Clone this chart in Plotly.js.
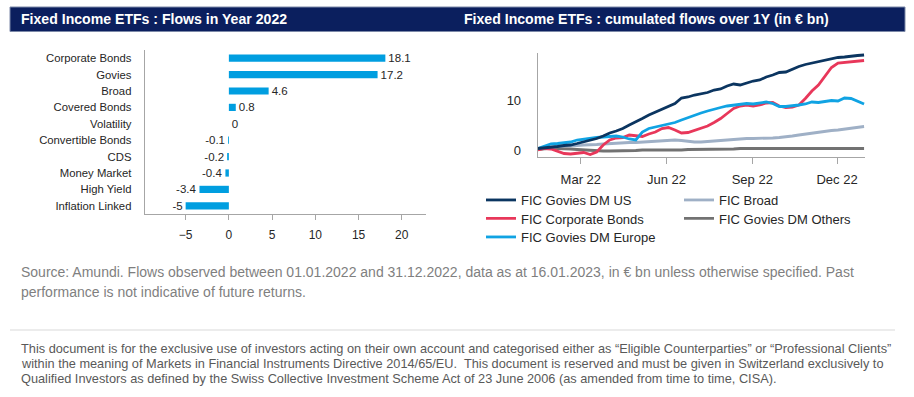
<!DOCTYPE html>
<html>
<head>
<meta charset="utf-8">
<script src="https://cdn.plot.ly/plotly-3.0.1.min.js"></script>
<style>
html,body{margin:0;padding:0;background:#fff;}
#chart{width:914px;height:397px;}
</style>
</head>
<body>
<div id="chart"></div>
<script>
// ---------- Data ----------
const barCategories = ['Corporate Bonds','Govies','Broad','Covered Bonds','Volatility','Convertible Bonds','CDS','Money Market','High Yield','Inflation Linked'];
const barValues = [18.1, 17.2, 4.6, 0.8, 0, -0.1, -0.2, -0.4, -3.4, -5];

const dates = ['2022-01-14','2022-01-21','2022-01-28','2022-02-04','2022-02-11','2022-02-18','2022-02-25','2022-03-04','2022-03-11','2022-03-18','2022-03-25','2022-04-01','2022-04-08','2022-04-15','2022-04-22','2022-04-29','2022-05-06','2022-05-13','2022-05-20','2022-05-27','2022-06-03','2022-06-10','2022-06-17','2022-06-24','2022-07-01','2022-07-08','2022-07-15','2022-07-22','2022-07-29','2022-08-05','2022-08-12','2022-08-19','2022-08-26','2022-09-02','2022-09-09','2022-09-16','2022-09-23','2022-09-30','2022-10-07','2022-10-14','2022-10-21','2022-10-28','2022-11-04','2022-11-11','2022-11-18','2022-11-25','2022-12-02','2022-12-09','2022-12-16','2022-12-23','2022-12-30'];
const goviesUS = [0.3,0.4,0.5,0.7,0.9,1.0,1.3,1.6,1.9,2.3,2.8,3.4,3.8,4.3,5.0,5.6,6.3,7.0,7.6,8.2,8.8,9.3,10.4,10.6,11.0,11.3,11.5,12.0,12.2,12.8,13.2,13.0,13.4,13.8,14.0,14.6,15.0,15.5,15.6,16.2,16.7,17.1,17.4,17.7,18.0,18.3,18.5,18.6,18.8,18.9,19.0];
const corporate = [0.0,0.3,0.2,-0.3,-0.7,-0.8,-0.6,-0.5,-0.9,-0.4,1.0,2.0,2.4,2.5,3.0,2.9,2.7,3.2,3.6,4.3,4.5,4.0,3.4,3.5,3.9,4.3,4.8,5.5,6.3,7.3,8.3,8.8,9.0,8.8,9.0,9.4,9.5,8.8,8.5,8.6,9.0,10.3,11.8,13.0,14.8,16.5,17.4,17.5,17.6,17.8,17.9];
const goviesEurope = [0.3,0.8,1.2,1.3,1.5,1.6,2.0,2.2,2.4,2.5,2.6,2.7,2.8,2.6,2.2,2.0,3.6,4.3,4.6,4.8,5.1,5.5,6.0,6.5,7.0,7.4,7.8,8.2,8.5,8.8,9.0,9.2,9.3,9.2,9.4,9.6,9.3,8.7,8.7,8.8,9.0,9.2,9.6,9.5,9.7,9.9,9.8,10.4,10.3,9.8,9.2];
const broad = [0.2,0.4,0.6,0.7,0.8,0.8,0.9,1.0,1.0,1.1,1.2,1.3,1.3,1.4,1.5,1.5,1.6,1.7,1.8,1.9,2.0,2.0,1.9,1.7,1.6,1.6,1.7,1.8,2.0,2.1,2.2,2.2,2.3,2.3,2.3,2.4,2.4,2.5,2.6,2.8,3.0,3.2,3.4,3.5,3.7,3.9,4.0,4.2,4.3,4.5,4.7];
const goviesOthers = [0.1,0.3,0.4,0.3,0.3,0.2,0.1,0.0,-0.1,-0.2,-0.2,-0.2,-0.2,-0.1,-0.1,-0.1,0.0,0.0,-0.1,-0.1,0.0,0.0,0.0,0.1,0.1,0.1,0.1,0.2,0.2,0.2,0.2,0.3,0.3,0.3,0.2,0.2,0.2,0.2,0.3,0.3,0.3,0.3,0.3,0.3,0.3,0.3,0.3,0.3,0.3,0.3,0.3];

const monthTickVals = ['2022-03-01','2022-06-01','2022-09-01','2022-12-01'];
const monthTickText = ['Mar 22','Jun 22','Sep 22','Dec 22'];

const leftTitle = 'Fixed Income ETFs : Flows in Year 2022';
const rightTitle = 'Fixed Income ETFs : cumulated flows over 1Y (in € bn)';
const sourceLines = ['Source: Amundi. Flows observed between 01.01.2022 and 31.12.2022, data as at 16.01.2023, in € bn unless otherwise specified. Past',
  'performance is not indicative of future returns.'];
const disclaimerLines = ['This document is for the exclusive use of investors acting on their own account and categorised either as “Eligible Counterparties” or “Professional Clients”',
  'within the meaning of Markets in Financial Instruments Directive 2014/65/EU.  This document is reserved and must be given in Switzerland exclusively to',
  'Qualified Investors as defined by the Swiss Collective Investment Scheme Act of 23 June 2006 (as amended from time to time, CISA).'];

// ---------- Layout helpers ----------
const W = 914, H = 397;
const px = x => x / W;
const py = y => 1 - y / H;
const FONT = 'Liberation Sans, Arial, sans-serif';

const traces = [
  {type:'bar', orientation:'h', x: barValues, y: barCategories, xaxis:'x', yaxis:'y',
   marker:{color:'#009ee0'}, width:0.44, text: barValues.map(String), textposition:'outside',
   constraintext:'none',
   textfont:{family:FONT, size:11.5, color:'#262626'}, cliponaxis:false, showlegend:false, hoverinfo:'skip'},
  {type:'scatter', mode:'lines', x: dates, y: goviesOthers, name:'FIC Govies DM Others', xaxis:'x2', yaxis:'y2',
   line:{color:'#727272', width:2.8}, legend:'legend5'},
  {type:'scatter', mode:'lines', x: dates, y: broad, name:'FIC Broad', xaxis:'x2', yaxis:'y2',
   line:{color:'#9fb0c6', width:2.8}, legend:'legend4'},
  {type:'scatter', mode:'lines', x: dates, y: corporate, name:'FIC Corporate Bonds', xaxis:'x2', yaxis:'y2',
   line:{color:'#e8375a', width:2.8}, legend:'legend2'},
  {type:'scatter', mode:'lines', x: dates, y: goviesEurope, name:'FIC Govies DM Europe', xaxis:'x2', yaxis:'y2',
   line:{color:'#10a3e3', width:2.8}, legend:'legend3'},
  {type:'scatter', mode:'lines', x: dates, y: goviesUS, name:'FIC Govies DM US', xaxis:'x2', yaxis:'y2',
   line:{color:'#0b3560', width:2.8}, legend:'legend'}
];

const annotations = [
  {text:'<b>'+leftTitle+'</b>', x:px(19), y:py(19.5), xanchor:'left', yanchor:'middle', font:{family:FONT, size:14.1, color:'#ffffff'}},
  {text:'<b>'+rightTitle+'</b>', x:px(462), y:py(19.5), xanchor:'left', yanchor:'middle', font:{family:FONT, size:14.1, color:'#ffffff'}},
];
sourceLines.forEach((t,i) => annotations.push({text:t, x:px(19), y:py(272 + i*20), xanchor:'left', yanchor:'middle', font:{family:FONT, size:14, color:'#7f7f7f'}}));
disclaimerLines.forEach((t,i) => annotations.push({text:t, x:px(19), y:py(348 + i*15.3), xanchor:'left', yanchor:'middle', font:{family:FONT, size:12.75, color:'#595959'}}));
annotations.forEach(a => { a.xref='paper'; a.yref='paper'; a.showarrow=false; });

function legendAt(x, yCenter) {
  return {x:px(x), y:py(yCenter - 14), xanchor:'left', yanchor:'top', orientation:'v', bgcolor:'rgba(0,0,0,0)',
    font:{family:FONT, size:13, color:'#262626'}, tracegroupgap:0, itemwidth:30};
}

const layout = {
  width: W, height: H,
  margin:{l:0, r:0, t:0, b:0},
  paper_bgcolor:'#ffffff', plot_bgcolor:'rgba(0,0,0,0)',
  font:{family:FONT, color:'#262626'},
  showlegend:true,
  xaxis:{domain:[px(145), px(426)], anchor:'y', range:[-9.7, 22.8], tickvals:[-5,0,5,10,15,20],
    showgrid:false, zeroline:false, showline:true, linecolor:'#a6a6a6', linewidth:1.3,
    ticks:'outside', ticklen:5, tickcolor:'#a6a6a6', tickwidth:1, ticklabelstandoff:4,
    tickfont:{family:FONT, size:12, color:'#262626'}, fixedrange:true},
  yaxis:{domain:[py(214), py(50)], anchor:'x', autorange:'reversed', type:'category',
    showgrid:false, zeroline:false, showline:true, linecolor:'#a6a6a6', linewidth:1.3,
    ticks:'', ticklabelstandoff:10, tickfont:{family:FONT, size:11.3, color:'#262626'}, fixedrange:true},
  xaxis2:{domain:[px(538), px(865)], anchor:'y2', type:'date', range:['2022-01-14','2022-12-31'],
    tickvals:monthTickVals, ticktext:monthTickText,
    showgrid:false, zeroline:false, showline:true, linecolor:'#a6a6a6', linewidth:1.3,
    ticks:'outside', ticklen:6, tickcolor:'#a6a6a6', tickwidth:1, ticklabelstandoff:4,
    tickfont:{family:FONT, size:13, color:'#262626'}, fixedrange:true},
  yaxis2:{domain:[py(157), py(53)], anchor:'x2', range:[-1.4, 19.4], tickvals:[0,10],
    showgrid:false, zeroline:false, showline:true, linecolor:'#a6a6a6', linewidth:1.3,
    ticks:'', ticklabelstandoff:13, tickfont:{family:FONT, size:13, color:'#262626'}, fixedrange:true},
  legend: legendAt(481, 199),
  legend2: legendAt(481, 217.5),
  legend3: legendAt(481, 236),
  legend4: legendAt(679, 199),
  legend5: legendAt(679, 217.5),
  shapes:[
    {type:'rect', xref:'paper', yref:'paper', x0:px(10), x1:px(905), y0:py(31.5), y1:py(7),
     fillcolor:'#0b1f5e', line:{color:'#7c89a8', width:1}, layer:'below'},
    {type:'line', xref:'paper', yref:'paper', x0:px(10), x1:px(895), y0:py(330), y1:py(330),
     line:{color:'#d9d9d9', width:1.2}}
  ],
  annotations: annotations
};

Plotly.newPlot('chart', traces, layout, {displayModeBar:false, staticPlot:true});
</script>
</body>
</html>
